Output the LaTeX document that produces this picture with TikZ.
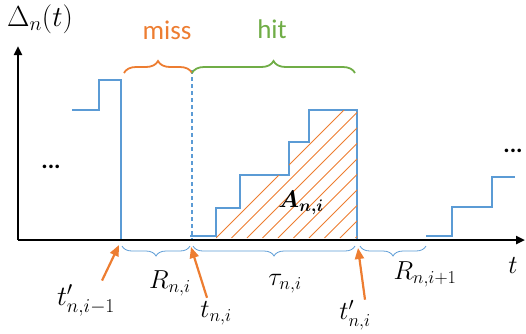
\RequirePackage{fix-cm}
\documentclass[tikz,border=0pt]{standalone}
\usepackage{amsmath}
\usepackage{bm}
\usepackage{fontspec}
\setsansfont{Carlito}
\usetikzlibrary{arrows.meta,decorations.pathreplacing,calc}
\definecolor{curveblue}{HTML}{5B9BD5}
\definecolor{hitgreen}{HTML}{70AD47}
\definecolor{missorange}{HTML}{ED7D31}

\begin{document}
\begin{tikzpicture}[x=1pt,y=-1pt,
    axis/.style={line width=2.4pt, -{Triangle[length=9pt,width=8pt]}},
    curve/.style={curveblue, line width=2.2pt},
    bigbrace/.style={decorate, decoration={brace,amplitude=12pt}, line width=1.8pt},
    smallbrace/.style={decorate, decoration={brace,amplitude=10pt}, curveblue, line width=0.8pt},
    pointer/.style={missorange, line width=2.2pt, -{Triangle[length=11pt,width=9pt]}},
    mathlabel/.style={font=\fontsize{26}{30}\selectfont},
    wordlabel/.style={font=\sffamily\fontsize{27}{32}\selectfont},
    dots/.style={font=\bfseries\sffamily\fontsize{24}{28}\selectfont}]
    \useasboundingbox (0,0) rectangle (526,333);
    % Draw the age curve before, during and after the update
    \draw[curve] (72,110) -- (99,110) -- (99,80) -- (121,80) -- (121,240);
    \draw[curve] (190,236) -- (216,236) -- (216,208) -- (240,208) -- (240,175) -- (289,175) -- (289,142) -- (309,142) -- (309,110) -- (357,110) -- (357,240);
    \draw[curve] (426,236) -- (452,236) -- (452,207) -- (492,207) -- (492,177) -- (515,177);
    % Draw the request instant
    \draw[curveblue, line width=1.2pt, dash pattern=on 4pt off 3pt] (192,70) -- (192,240);
    % Hatch the area of the hit period
    \begin{scope}
      \clip (216,238) -- (216,208) -- (240,208) -- (240,175) -- (289,175) -- (289,142) -- (309,142) -- (309,110) -- (357,110) -- (357,238) -- cycle;
      \foreach \k in {0,...,9}
        \draw[missorange, line width=1pt] (216+15.5*\k,238) -- ++(150,-150);
    \end{scope}
    % Draw the axes
    \coordinate (origin) at (18,240);
    \coordinate (yend) at (18,46);
    \coordinate (xend) at (525,240);
    \draw[axis] (origin) -- (yend);
    \draw[axis] (origin) -- (xend);
    \node[mathlabel, font=\fontsize{29}{34}\selectfont] (delta) at (40,19) {$\Delta_n(t)$};
    \node[mathlabel] (tlab) at (513,265) {$t$};
    % Draw the miss and hit braces
    \draw[bigbrace, missorange] (124,73) -- (192,73);
    \draw[bigbrace, hitgreen] (192,73) -- (355,73);
    \node[wordlabel, missorange] (miss) at (167,30) {miss};
    \node[wordlabel, hitgreen] (hit) at (272,29) {hit};
    % Draw the intervals under the time axis
    \draw[smallbrace] (190,246) -- (122,246);
    \draw[smallbrace] (355,246) -- (193,246);
    \draw[smallbrace] (426,246) -- (360,246);
    \node[mathlabel] (rlab) at (170,283) {$R_{n,i}$};
    \node[mathlabel] (taulab) at (285,284) {$\tau_{n,i}$};
    \node[mathlabel] (rnext) at (425,274) {$R_{n,i+1}$};
    \node[mathlabel, font=\fontsize{24}{28}\selectfont] (area) at (301,203) {$\boldsymbol{A_{n,i}}$};
    \node[dots] (ldots) at (51,167) {...};
    \node[dots] (rdots) at (513,151) {...};
    % Draw the instants with arrows
    \node[mathlabel, font=\fontsize{28}{32}\selectfont] (tprev) at (86,300) {$t'_{n,i-1}$};
    \node[mathlabel] (tcur) at (216,313) {$t_{n,i}$};
    \node[mathlabel] (tend) at (355,315) {$t'_{n,i}$};
    \coordinate (prevtip) at (119,245);
    \coordinate (curtip) at (191,247);
    \coordinate (endtip) at (358,248);
    \draw[pointer] ($(tprev.north)+(16,0)$) -- (prevtip);
    \draw[pointer] ($(tcur.north)+(-9,0)$) -- (curtip);
    \draw[pointer] ($(tend.north)+(10,3)$) -- (endtip);
\end{tikzpicture}
\end{document}
